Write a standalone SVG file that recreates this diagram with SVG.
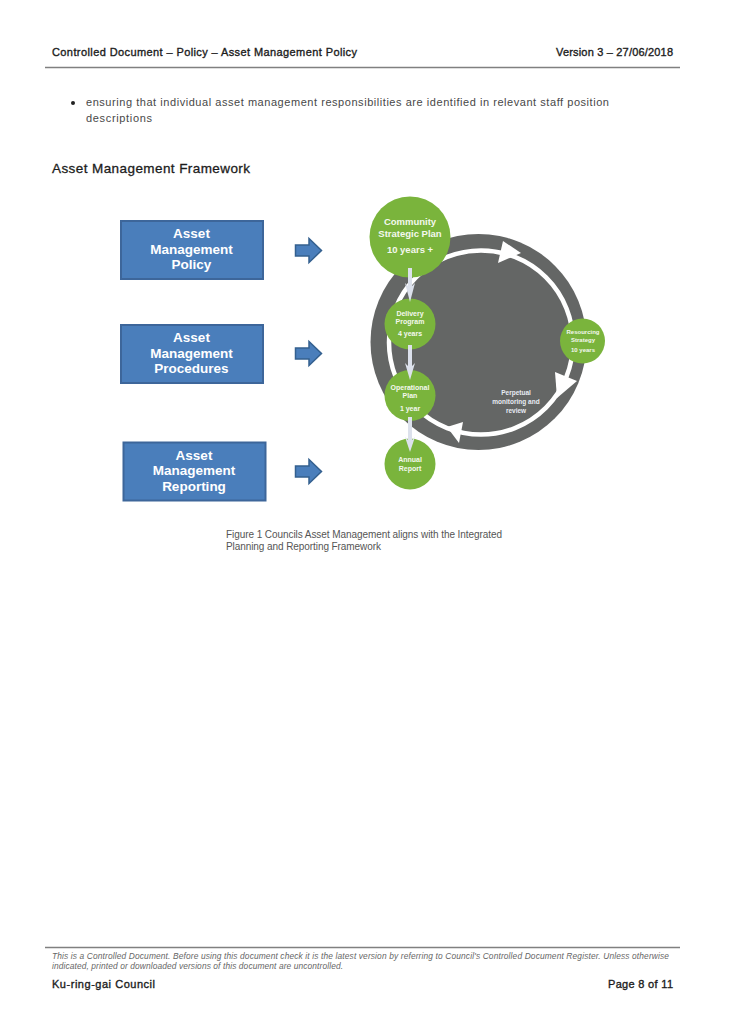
<svg xmlns="http://www.w3.org/2000/svg" width="730" height="1033" viewBox="0 0 730 1033">
<style>
text{font-family:"Liberation Sans",Arial,sans-serif;fill:#1c1c1c}
.h{font-size:11px;stroke:#1c1c1c;stroke-width:.35px}
.b{font-size:11px;fill:#484848}
.c{font-size:10px;fill:#555}
.f{font-size:8.4px;font-style:italic;fill:#666}
.t{font-size:13.5px;font-weight:bold;fill:#fff;text-anchor:middle}
.box{fill:#4a7ebb;stroke:#3d669a;stroke-width:2}
.ar{fill:#4a7ebb;stroke:#34608f;stroke-width:1.5}
.g{fill:#7ab43c}
.w{fill:#f4f8ee;font-weight:bold;text-anchor:middle}
.dn{fill:#dce1ec}
.rule{stroke:#808080;stroke-width:1.3;fill:none}
</style>
<rect width="730" height="1033" fill="#fff"/>
<g id="header">
<text class="h" x="52" y="56" textLength="305">Controlled Document – Policy – Asset Management Policy</text>
<text class="h" x="556" y="56" textLength="117">Version 3 – 27/06/2018</text>
<line class="rule" x1="45" y1="67.500" x2="680" y2="67.500"/>
</g>
<g id="body">
<circle cx="73" cy="103" r="2" fill="#222"/>
<text class="b" x="86" y="106" textLength="523">ensuring that individual asset management responsibilities are identified in relevant staff position</text>
<text class="b" x="86" y="122" textLength="66">descriptions</text>
<text x="52" y="173" font-size="13.500" textLength="198" stroke="#1c1c1c" stroke-width=".3">Asset Management Framework</text>
</g>
<g id="connectors">
<circle cx="478.500" cy="342" r="108" fill="#646665"/>
<circle cx="481" cy="342.500" r="92" fill="none" stroke="#fff" stroke-width="4.500"/>
<polygon points="503,241 521,253 498,263" fill="#fff"/>
<polygon points="555,372 577,381 557,398" fill="#fff"/>
<polygon points="463,422 447,427 459,443" fill="#fff"/>
<g class="ar">
<path id="arrow1" d="M295.500 245H309V238.500L321.500 250.500L309 262.500V256H295.500Z"/>
<path id="arrow2" d="M295.500 348H309V341.500L321.500 353.500L309 365.500V359H295.500Z"/>
<path id="arrow3" d="M295.500 466H309V459.500L321.500 471.500L309 483.500V477H295.500Z"/>
</g>
</g>
<g id="policy"><rect class="box" x="121" y="221" width="142" height="58"/>
<text class="t" x="191.500" y="238">Asset</text><text class="t" x="191.500" y="254">Management</text><text class="t" x="191.500" y="269">Policy</text></g>
<g id="procedures"><rect class="box" x="121" y="325" width="142" height="58"/>
<text class="t" x="191.500" y="342">Asset</text><text class="t" x="191.500" y="358">Management</text><text class="t" x="191.500" y="373">Procedures</text></g>
<g id="reporting"><rect class="box" x="123.500" y="442.500" width="142" height="58"/>
<text class="t" x="194" y="460">Asset</text><text class="t" x="194" y="475">Management</text><text class="t" x="194" y="491">Reporting</text></g>
<g id="community"><circle class="g" cx="410" cy="237" r="40.500"/>
<text class="w" x="410" y="225" font-size="9.500">Community</text><text class="w" x="410" y="237" font-size="9.500">Strategic Plan</text><text class="w" x="410" y="253" font-size="9.500">10 years +</text></g>
<g id="delivery"><circle class="g" cx="410" cy="324" r="25.500"/>
<text class="w" x="410" y="316" font-size="7">Delivery</text><text class="w" x="410" y="324" font-size="7">Program</text><text class="w" x="410" y="336" font-size="7">4 years</text></g>
<g id="operational"><circle class="g" cx="410" cy="395.500" r="25.500"/>
<text class="w" x="410" y="390" font-size="7">Operational</text><text class="w" x="410" y="398" font-size="7">Plan</text><text class="w" x="410" y="411" font-size="7">1 year</text></g>
<g id="annual"><circle class="g" cx="410" cy="464" r="25.500"/>
<text class="w" x="410" y="462" font-size="7">Annual</text><text class="w" x="410" y="471" font-size="7">Report</text></g>
<g id="resourcing"><circle class="g" cx="582.500" cy="341" r="22.500"/>
<text class="w" x="583" y="334" font-size="6">Resourcing</text><text class="w" x="583" y="342" font-size="6">Strategy</text><text class="w" x="583" y="352" font-size="6">10 years</text></g>
<g id="down-arrows">
<path class="dn" d="M408 268H412V286L415 283L410 302L405 283L408 286Z"/>
<path class="dn" d="M408 345H412V366L415 363L410 380L405 363L408 366Z"/>
<path class="dn" d="M408 417H412V440L415 437L410 452L405 437L408 440Z"/>
</g>
<g id="loop-label">
<text class="w" x="516" y="395" font-size="6.500" style="fill:#e8ecf4">Perpetual</text><text class="w" x="516" y="404" font-size="6.500" style="fill:#e8ecf4">monitoring and</text><text class="w" x="516" y="413" font-size="6.500" style="fill:#e8ecf4">review</text>
</g>
<g id="caption">
<text class="c" x="226" y="538" textLength="276">Figure 1 Councils Asset Management aligns with the Integrated</text>
<text class="c" x="226" y="550" textLength="155">Planning and Reporting Framework</text>
</g>
<g id="footer">
<line class="rule" x1="45" y1="947.500" x2="680" y2="947.500"/>
<text class="f" x="52" y="959" textLength="617">This is a Controlled Document.  Before using this document check it is the latest version by referring to Council's Controlled Document Register.  Unless otherwise</text>
<text class="f" x="52" y="969" textLength="291">indicated, printed or downloaded versions of this document are uncontrolled.</text>
<text class="h" x="52" y="988" textLength="103">Ku-ring-gai Council</text>
<text class="h" x="608" y="988" textLength="65">Page 8 of 11</text>
</g>
</svg>
